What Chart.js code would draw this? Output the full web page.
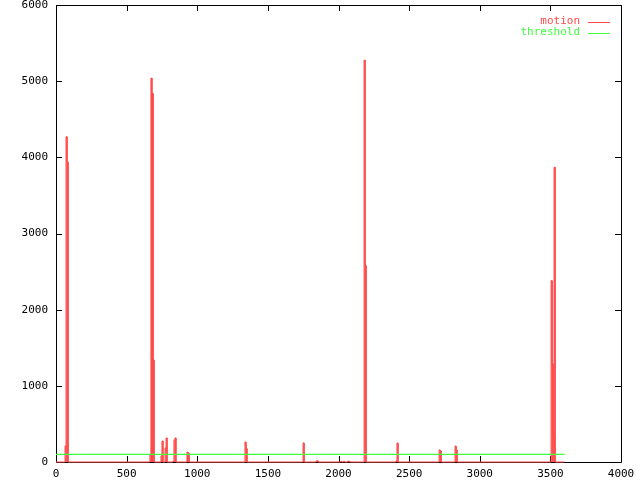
<!DOCTYPE html>
<html>
<head>
<meta charset="utf-8">
<script src="https://cdn.jsdelivr.net/npm/chart.js@4"></script>
<style>
  body { margin: 0; background: #fff; }
</style>
</head>
<body>
<canvas id="chart" width="640" height="480"></canvas>
<script>
// motion samples: frame number and motion value
const motionFrames = [64, 71, 78, 665, 672, 680, 687, 743, 750, 772, 779, 828, 835, 842, 927, 935,
  1338, 1345, 1749, 1842, 1849, 2015, 2035, 2065, 2072, 2181, 2188, 2407, 2414,
  2712, 2719, 2825, 2832, 3505, 3512, 3519, 3526];
const motionValues = [210, 4270, 3940, 100, 5040, 4840, 1340, 80, 276, 184, 316, 10, 290, 316, 130, 115,
  263, 175, 250, 15, 15, 10, 10, 12, 12, 5276, 2579, 15, 250,
  158, 145, 210, 158, 2382, 1290, 346, 3870];
const lastFrame = 3600;
const thresholdValue = 100;

const xTicks = [0, 500, 1000, 1500, 2000, 2500, 3000, 3500, 4000];
const yTicks = [0, 1000, 2000, 3000, 4000, 5000, 6000];
const seriesNames = ['motion', 'threshold'];
const seriesColors = ['rgb(255,72,72)', 'rgb(64,255,64)'];

const FONT_FAMILY = '"DejaVu Sans Mono", monospace';
const SAMPLE_W = 7; // one frame step is about one pixel wide

// each sample becomes a narrow step from the zero line
const motionPoints = [{ x: 0, y: 0 }];
motionFrames.forEach((f, i) => {
  motionPoints.push({ x: f, y: 0 }, { x: f, y: motionValues[i] },
    { x: f + SAMPLE_W, y: motionValues[i] }, { x: f + SAMPLE_W, y: 0 });
});
motionPoints.push({ x: lastFrame, y: 0 });

const thresholdPoints = [{ x: 0, y: thresholdValue }, { x: lastFrame, y: thresholdValue }];

// gnuplot style frame: full border box with inward ticks on all four sides
const framePlugin = {
  id: 'frame',
  beforeDatasetsDraw(chart) {
    const { ctx, chartArea: a, scales } = chart;
    ctx.save();
    ctx.strokeStyle = '#000';
    ctx.lineWidth = 1;
    ctx.beginPath();
    ctx.rect(a.left + 0.5, a.top + 0.5, a.right - a.left, a.bottom - a.top);
    yTicks.forEach(v => {
      const y = Math.round(scales.y.getPixelForValue(v)) + 0.5;
      ctx.moveTo(a.left, y); ctx.lineTo(a.left + 6, y);
      ctx.moveTo(a.right, y); ctx.lineTo(a.right - 6, y);
    });
    xTicks.forEach(v => {
      const x = Math.round(scales.x.getPixelForValue(v)) + 0.5;
      ctx.moveTo(x, a.bottom); ctx.lineTo(x, a.bottom - 6);
      ctx.moveTo(x, a.top); ctx.lineTo(x, a.top + 6);
    });
    ctx.stroke();
    ctx.restore();
  }
};

// key in the top right corner: coloured text, then the line sample
const keyPlugin = {
  id: 'key',
  afterDraw(chart) {
    const { ctx, chartArea: a } = chart;
    ctx.save();
    ctx.font = '11px ' + FONT_FAMILY;
    ctx.textAlign = 'right';
    ctx.textBaseline = 'middle';
    seriesNames.forEach((name, i) => {
      const y = a.top + 16.5 + i * 11;
      ctx.fillStyle = seriesColors[i];
      ctx.fillText(name, a.right - 41, y);
      ctx.strokeStyle = seriesColors[i];
      ctx.lineWidth = 1;
      ctx.beginPath();
      ctx.moveTo(a.right - 33, Math.round(y) + 0.5);
      ctx.lineTo(a.right - 11, Math.round(y) + 0.5);
      ctx.stroke();
    });
    ctx.restore();
  }
};

new Chart(document.getElementById('chart'), {
  type: 'line',
  data: {
    datasets: [
      {
        label: seriesNames[1],
        data: thresholdPoints,
        borderColor: seriesColors[1],
        borderWidth: 1.3,
        pointRadius: 0,
        order: 0
      },
      {
        label: seriesNames[0],
        data: motionPoints,
        borderColor: seriesColors[0],
        borderWidth: 1,
        pointRadius: 0,
        clip: 2,
        order: 1
      }
    ]
  },
  options: {
    responsive: false,
    animation: false,
    layout: { padding: { left: 0, top: 5, right: 19, bottom: 0 } },
    plugins: {
      legend: { display: false },
      tooltip: { enabled: false }
    },
    scales: {
      x: {
        type: 'linear',
        min: 0,
        max: 4000,
        grid: { display: false, drawTicks: false },
        border: { display: false },
        ticks: { color: '#000', font: { family: FONT_FAMILY, size: 11 }, padding: 6, maxRotation: 0,
          callback: v => String(v) },
        afterBuildTicks: s => { s.ticks = xTicks.map(v => ({ value: v })); },
        afterFit: s => { s.height = 18; s.paddingLeft = 0; s.paddingRight = 0; }
      },
      y: {
        min: 0,
        max: 6000,
        grid: { display: false, drawTicks: false },
        border: { display: false },
        ticks: { color: '#000', font: { family: FONT_FAMILY, size: 11 }, padding: 8,
          callback: v => String(v) },
        afterBuildTicks: s => { s.ticks = yTicks.map(v => ({ value: v })); },
        afterFit: s => { s.width = 56; s.paddingTop = 0; s.paddingBottom = 0; }
      }
    }
  },
  plugins: [framePlugin, keyPlugin]
});
</script>
</body>
</html>
